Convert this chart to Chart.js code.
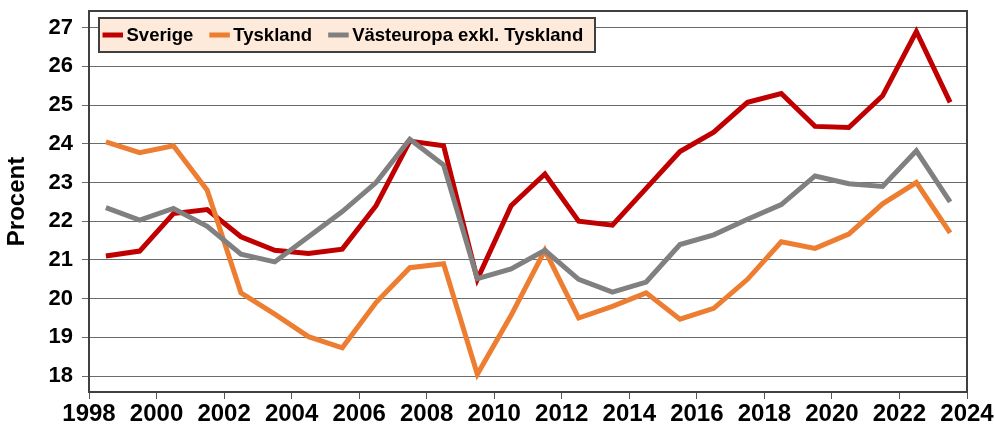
<!DOCTYPE html>
<html>
<head>
<meta charset="utf-8">
<script src="https://cdn.jsdelivr.net/npm/chart.js@4"></script>
<style>
  body { margin: 0; background: #fff; }
  #wrap { width: 995px; height: 428px; }
</style>
</head>
<body>
<div id="wrap"><canvas id="chart" width="995" height="428"></canvas></div>
<script>
// years are mid-year points
const years = [1998.5, 1999.5, 2000.5, 2001.5, 2002.5, 2003.5, 2004.5, 2005.5, 2006.5, 2007.5,
               2008.5, 2009.5, 2010.5, 2011.5, 2012.5, 2013.5, 2014.5, 2015.5, 2016.5, 2017.5,
               2018.5, 2019.5, 2020.5, 2021.5, 2022.5, 2023.5];

const sverige = [21.10, 21.23, 22.20, 22.30, 21.60, 21.25, 21.17, 21.28, 22.40, 24.07,
                 23.95, 20.50, 22.40, 23.22, 22.00, 21.90, 22.85, 23.80, 24.30, 25.07,
                 25.30, 24.45, 24.42, 25.24, 26.90, 25.07];

const tyskland = [24.05, 23.77, 23.95, 22.80, 20.15, 19.60, 19.02, 18.73, 19.90, 20.80,
                  20.90, 18.05, 19.57, 21.25, 19.50, 19.80, 20.15, 19.47, 19.75, 20.50,
                  21.47, 21.30, 21.67, 22.45, 23.00, 21.70];

const vasteuropa = [22.35, 22.03, 22.33, 21.87, 21.15, 20.95, 21.60, 22.25, 23.00, 24.12,
                    23.45, 20.52, 20.77, 21.25, 20.50, 20.17, 20.43, 21.40, 21.65, 22.05,
                    22.43, 23.17, 22.97, 22.90, 23.82, 22.50];

const xTicks = [1998, 2000, 2002, 2004, 2006, 2008, 2010, 2012, 2014, 2016, 2018, 2020, 2022, 2024];
const yTicks = [18, 19, 20, 21, 22, 23, 24, 25, 26, 27];

const seriesNames = ['Sverige', 'Tyskland', 'Västeuropa exkl. Tyskland'];
const seriesColors = ['#c00000', '#ed7d31', '#808080'];

function pts(vals) {
    return years.map((x, i) => ({ x: x, y: vals[i] }));
}

const FONT = '"Liberation Sans", Arial, sans-serif';

// own legend box + plot frame
const extras = {
    id: 'extras',
    beforeDraw(chart) {
        const a = chart.chartArea;
        const c = chart.ctx;
        c.save();
        c.fillStyle = '#fff';
        c.fillRect(a.left, a.top, a.right - a.left, a.bottom - a.top);
        c.restore();
    },
    afterDraw(chart) {
        const a = chart.chartArea;
        const c = chart.ctx;
        c.save();
        c.strokeStyle = '#404040';
        c.lineWidth = 2;
        c.strokeRect(a.left, a.top, a.right - a.left, a.bottom - a.top);

        // legend
        c.fillStyle = '#fdeada';
        c.fillRect(99, 18, 496, 34);
        c.strokeRect(99, 18, 496, 34);
        c.font = 'bold 18.5px ' + FONT;
        c.textBaseline = 'middle';
        let x = 102.5;
        const y = 35;
        seriesNames.forEach((name, i) => {
            c.strokeStyle = seriesColors[i];
            c.lineWidth = 5;
            c.beginPath();
            c.moveTo(x, y);
            c.lineTo(x + 20.5, y);
            c.stroke();
            x += 24;
            c.fillStyle = '#000';
            c.fillText(name, x, y + 1);
            x += c.measureText(name).width + 16;
        });
        c.restore();
    }
};

const ctx = document.getElementById('chart').getContext('2d');

new Chart(ctx, {
    type: 'line',
    data: {
        datasets: [
            { label: seriesNames[0], data: pts(sverige), borderColor: seriesColors[0], order: 2 },
            { label: seriesNames[1], data: pts(tyskland), borderColor: seriesColors[1], order: 1 },
            { label: seriesNames[2], data: pts(vasteuropa), borderColor: seriesColors[2], order: 0 }
        ]
    },
    options: {
        responsive: false,
        animation: false,
        layout: { padding: { top: 11, right: 28, left: 0, bottom: 0 } },
        elements: {
            line: { borderWidth: 5, tension: 0, fill: false },
            point: { radius: 0, hoverRadius: 0 }
        },
        plugins: {
            legend: { display: false },
            tooltip: { enabled: false }
        },
        scales: {
            x: {
                type: 'linear',
                min: 1998,
                max: 2024,
                afterBuildTicks: s => { s.ticks = xTicks.map(v => ({ value: v })); },
                afterFit: s => { s.height = 36; s.paddingLeft = 0; s.paddingRight = 0; },
                grid: { drawOnChartArea: false, drawTicks: true, tickLength: 7, color: '#555' },
                border: { display: false },
                ticks: {
                    callback: v => String(v),
                    color: '#000',
                    padding: 1,
                    maxRotation: 0,
                    autoSkip: false,
                    font: { family: FONT, size: 24, weight: 'bold' }
                }
            },
            y: {
                min: 17.59,
                max: 27.43,
                afterBuildTicks: s => { s.ticks = yTicks.map(v => ({ value: v })); },
                afterFit: s => { s.width = 89; s.paddingTop = 0; s.paddingBottom = 0; },
                grid: { color: '#6a6a6a', lineWidth: 1, tickLength: 7 },
                border: { display: false },
                title: {
                    display: true,
                    text: 'Procent',
                    color: '#000',
                    padding: { top: 3, bottom: 0 },
                    font: { family: FONT, size: 24, weight: 'bold' }
                },
                ticks: {
                    color: '#000',
                    padding: 9,
                    font: { family: FONT, size: 22, weight: 'bold' }
                }
            }
        }
    },
    plugins: [extras]
});
</script>
</body>
</html>
